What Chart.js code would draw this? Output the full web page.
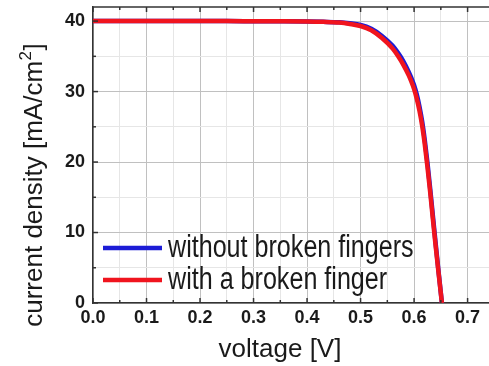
<!DOCTYPE html>
<html>
<head>
<meta charset="utf-8">
<script src="https://cdn.jsdelivr.net/npm/chart.js@4/dist/chart.umd.min.js"></script>
<style>
html,body{margin:0;padding:0;background:#fff;}
#wrap{width:489px;height:366px;}
</style>
</head>
<body>
<div id="wrap"><canvas id="c" width="489" height="366"></canvas></div>
<script>
// ---- data ----
const voltage = [0, 0.05, 0.1, 0.15, 0.2, 0.25, 0.3, 0.35, 0.4, 0.43, 0.46, 0.48, 0.5, 0.52, 0.54, 0.56, 0.57, 0.58, 0.59, 0.595, 0.6, 0.605, 0.61, 0.615, 0.62, 0.625, 0.63, 0.635, 0.64, 0.645, 0.652];
const jWithout = [40.0, 40.0, 40.0, 40.0, 40.0, 40.0, 39.99, 39.98, 39.95, 39.9, 39.82, 39.68, 39.45, 38.9, 37.9, 36.5, 35.5, 34.3, 32.8, 31.9, 30.9, 29.6, 27.9, 25.8, 23.1, 19.9, 16.3, 12.5, 8.7, 5.0, 0.0];
const jBroken  = [40.0, 40.0, 40.0, 40.0, 40.0, 40.0, 39.99, 39.98, 39.95, 39.9, 39.8, 39.6, 39.3, 38.7, 37.6, 36.1, 35.05, 33.8, 32.3, 31.4, 30.35, 29.0, 27.3, 25.2, 22.5, 19.3, 15.8, 12.0, 8.3, 4.8, 0.0];
const seriesNames = ["without broken fingers", "with a broken finger"];
const xTickLabels = ["0.0", "0.1", "0.2", "0.3", "0.4", "0.5", "0.6", "0.7"];
const yTickLabels = ["0", "10", "20", "30", "40"];
const xTitle = "voltage [V]";
const yTitle = "current density [mA/cm";

const BLUE = '#1c1cd6';
const RED = '#f0141e';
const TXT = '#1a1a1a';
const FONT = '"Liberation Sans", Arial, Helvetica, sans-serif';

function pts(xs, ys){ return xs.map((x,i)=>({x:x, y:ys[i]})); }
function isMult(v, step){ const r = v/step; return Math.abs(r - Math.round(r)) < 1e-6; }

const framePlugin = {
  id: 'frame',
  afterDatasetsDraw(chart){
    const ctx = chart.ctx, a = chart.chartArea;
    const xs = chart.scales.x, ys = chart.scales.y;
    ctx.save();
    ctx.strokeStyle = '#333';
    ctx.lineWidth = 1.5;
    // top frame line
    ctx.beginPath(); ctx.moveTo(a.left, a.top); ctx.lineTo(a.right+1, a.top); ctx.stroke();
    // inward ticks
    for (let i = 0; i <= 14; i++) {
      const v = i*0.05;
      const px = xs.getPixelForValue(v);
      const len = (i % 2 === 0) ? 5 : 3;
      ctx.beginPath(); ctx.moveTo(px, a.bottom); ctx.lineTo(px, a.bottom - len); ctx.stroke();
      ctx.beginPath(); ctx.moveTo(px, a.top); ctx.lineTo(px, a.top + len); ctx.stroke();
    }
    for (let i = 0; i <= 8; i++) {
      const v = i*5;
      const py = ys.getPixelForValue(v);
      const len = (i % 2 === 0) ? 5 : 3;
      ctx.beginPath(); ctx.moveTo(a.left, py); ctx.lineTo(a.left + len, py); ctx.stroke();
    }
    ctx.restore();

    // legend (inside plot)
    ctx.save();
    const items = [{c:BLUE, y:248, t:seriesNames[0]}, {c:RED, y:280, t:seriesNames[1]}];
    items.forEach(it=>{
      ctx.strokeStyle = it.c; ctx.lineWidth = 4.5; ctx.lineCap = 'butt';
      ctx.beginPath(); ctx.moveTo(103, it.y); ctx.lineTo(162, it.y); ctx.stroke();
      ctx.save();
      ctx.translate(168, it.y + 8.5);
      ctx.scale(0.81, 1);
      ctx.fillStyle = TXT;
      ctx.font = '31px ' + FONT;
      ctx.textBaseline = 'alphabetic';
      ctx.textAlign = 'left';
      ctx.fillText(it.t, 0, 0);
      ctx.restore();
    });
    ctx.restore();

    // axis titles
    ctx.save();
    ctx.fillStyle = TXT;
    ctx.font = '26px ' + FONT;
    ctx.textAlign = 'center';
    ctx.textBaseline = 'alphabetic';
    ctx.fillText(xTitle, 280, 357);
    // y title rotated with superscript
    const mainW = ctx.measureText(yTitle).width;
    ctx.font = '17px ' + FONT;
    const supW = ctx.measureText('2').width;
    ctx.font = '26px ' + FONT;
    const brW = ctx.measureText(']').width;
    const total = mainW + supW + brW;
    ctx.translate(42, 185.5);
    ctx.rotate(-Math.PI/2);
    ctx.textAlign = 'left';
    let x0 = -total/2;
    ctx.fillText(yTitle, x0, 0);
    ctx.font = '17px ' + FONT;
    ctx.fillText('2', x0 + mainW + 0.5, -11);
    ctx.font = '26px ' + FONT;
    ctx.fillText(']', x0 + mainW + supW + 1, 0);
    ctx.restore();
  }
};

const gridColor = (step) => (c) => {
  const v = c.tick ? c.tick.value : 0;
  if (isMult(v, step*2)) return '#c0c0c0';
  if (isMult(v, step)) return '#e6e6e6';
  return 'rgba(0,0,0,0)';
};

new Chart(document.getElementById('c'), {
  type: 'scatter',
  data: {
    datasets: [
      { label: seriesNames[1], data: pts(voltage, jBroken), showLine: true, borderColor: RED, backgroundColor: RED,
        borderWidth: 4.5, pointRadius: 0, cubicInterpolationMode: 'monotone', order: 1 },
      { label: seriesNames[0], data: pts(voltage, jWithout), showLine: true, borderColor: BLUE, backgroundColor: BLUE,
        borderWidth: 4.5, pointRadius: 0, cubicInterpolationMode: 'monotone', order: 2 }
    ]
  },
  options: {
    responsive: false,
    animation: false,
    devicePixelRatio: 1,
    layout: { padding: { top: 7, right: 0, left: 0, bottom: 0 } },
    plugins: { legend: { display: false }, tooltip: { enabled: false }, title: { display: false } },
    scales: {
      x: {
        type: 'linear', min: 0, max: 0.74,
        afterFit(s){ s.height = 63; s.paddingLeft = 0; s.paddingRight = 0; },
        border: { display: true, color: '#333', width: 1.5 },
        grid: { drawTicks: false, color: gridColor(0.05), lineWidth: 1 },
        ticks: {
          stepSize: 0.05, includeBounds: false, autoSkip: false, maxRotation: 0, padding: 4,
          color: TXT, font: { family: FONT, size: 18, weight: 'bold' },
          callback(v){ if (!isMult(v, 0.1)) return ''; const i = Math.round(v/0.1); return xTickLabels[i] !== undefined ? xTickLabels[i] : ''; }
        }
      },
      y: {
        type: 'linear', min: 0, max: 42,
        afterFit(s){ s.width = 93; s.paddingTop = 0; s.paddingBottom = 0; },
        border: { display: true, color: '#333', width: 1.5 },
        grid: { drawTicks: false, color: gridColor(5), lineWidth: 1 },
        ticks: {
          stepSize: 5, includeBounds: false, autoSkip: false, padding: 8,
          color: TXT, font: { family: FONT, size: 18, weight: 'bold' },
          callback(v){ if (!isMult(v, 10)) return ''; const i = Math.round(v/10); return yTickLabels[i] !== undefined ? yTickLabels[i] : ''; }
        }
      }
    }
  },
  plugins: [framePlugin]
});
</script>
</body>
</html>
